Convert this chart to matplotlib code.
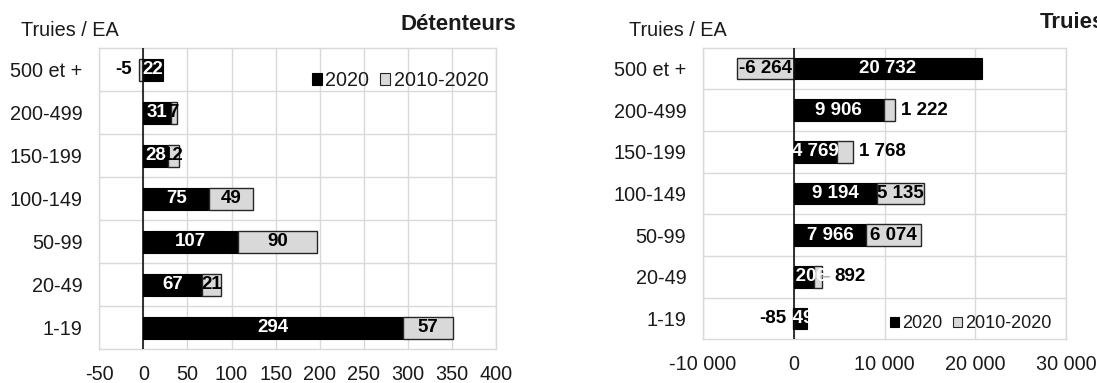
import matplotlib
matplotlib.use("Agg")
import matplotlib.pyplot as plt
from matplotlib.patches import Patch
import numpy as np

plt.rcParams['font.family'] = ['Liberation Sans', 'DejaVu Sans']

# Size classes (sows per holding), top to bottom
classes = ["500 et +", "200-499", "150-199", "100-149", "50-99", "20-49", "1-19"]

# Holders: 2020 count and change 2010-2020
holders_2020 = [22, 31, 28, 75, 107, 67, 294]
holders_change = [-5, 7, 12, 49, 90, 21, 57]

# Sows: 2020 count and change 2010-2020
sows_2020 = [20732, 9906, 4769, 9194, 7966, 2206, 1492]
sows_change = [-6264, 1222, 1768, 5135, 6074, 892, -85]

holders_ticks = [-50, 0, 50, 100, 150, 200, 250, 300, 350, 400]
sows_ticks = [-10000, 0, 10000, 20000, 30000]

series_names = ["2020", "2010-2020"]

# where the change labels sit: centred, outside the bar end, or outside with a leader
holders_label_pos = ["out", "c", "c", "c", "c", "c", "c"]
sows_label_pos = ["c", "out", "out", "c", "c", "lead", "out"]

BLACK = "#000000"
GREY = "#d9d9d9"
EDGE = "#262626"
GRID = "#d9d9d9"
TXT = "#1a1a1a"
FS = 14.3       # axis text
FS_VAL = 13.5   # bar values
FS_TITLE = 16


def fmt(v):
    s = f"{abs(v):,}".replace(",", " ")
    return "-" + s if v < 0 else s


def panel(ax, base, change, ticks, label_pos, height, xpad):
    y = np.arange(len(classes))
    ax.barh(y, base, height, color=BLACK, edgecolor=BLACK, lw=0.8, zorder=2)
    left = [b if c >= 0 else 0 for b, c in zip(base, change)]
    ax.barh(y, change, height, left=left, color=GREY, edgecolor=EDGE, lw=1.0, zorder=2)
    ax.axvline(0, color="black", lw=1.1, zorder=3)

    for yi, b in zip(y, base):
        ax.text(b / 2, yi, fmt(b), color="white", fontsize=FS_VAL, fontweight="bold",
                ha="center", va="center", zorder=5)
    for yi, l, c, p in zip(y, left, change, label_pos):
        kw = dict(color="black", fontsize=FS_VAL, fontweight="bold", va="center", zorder=6,
                  textcoords="offset pixels")
        if p == "c":
            ax.annotate(fmt(c), xy=(l + c / 2, yi), xytext=(0, 0), ha="center", **kw)
        elif p == "out":
            end = l + c
            if c < 0:
                ax.annotate(fmt(c), xy=(end, yi), xytext=(-7, 0), ha="right", **kw)
            else:
                ax.annotate(fmt(c), xy=(end, yi), xytext=(6, 0), ha="left", **kw)
        else:
            ax.annotate(fmt(c), xy=(l + c, yi), xytext=(13, 0), ha="left",
                        arrowprops=dict(arrowstyle="-", color="#a6a6a6", lw=1,
                                        shrinkA=2, shrinkB=0), **kw)

    ax.set_xlim(ticks[0], ticks[-1])
    ax.set_ylim(len(classes) - 0.5, -0.5)
    ax.set_xticks(ticks)
    ax.set_xticklabels([fmt(t) for t in ticks])
    ax.set_yticks(y)
    ax.set_yticklabels(classes)
    ax.set_yticks(np.arange(len(classes) - 1) + 0.5, minor=True)
    ax.grid(axis="x", which="major", color=GRID, lw=1, zorder=0)
    ax.grid(axis="y", which="minor", color=GRID, lw=1, zorder=0)
    ax.set_axisbelow(True)
    ax.tick_params(axis="both", which="both", length=0, labelsize=FS, colors=TXT)
    ax.tick_params(axis="y", pad=12)
    ax.tick_params(axis="x", pad=xpad)
    for s in ax.spines.values():
        s.set_color(GRID)
        s.set_linewidth(1)


def legend(ax, anchor, size):
    handles = [Patch(facecolor=BLACK, edgecolor=BLACK, lw=0.8),
               Patch(facecolor=GREY, edgecolor=EDGE, lw=0.8)]
    ax.legend(handles, series_names, loc="center left", bbox_to_anchor=anchor,
              ncol=2, frameon=False, fontsize=size, handlelength=0.52, handleheight=0.52,
              handletextpad=0.18, columnspacing=0.55, borderpad=0, borderaxespad=0,
              labelcolor=TXT)


W, H = 1097, 383
fig = plt.figure(figsize=(W / 100, H / 100), dpi=100)

ax1 = fig.add_axes([99.3 / W, 1 - 349.3 / H, (496 - 99.3) / W, (349.3 - 48.3) / H])
panel(ax1, holders_2020, holders_change, holders_ticks, holders_label_pos, 0.5, 11.5)
legend(ax1, (0.535, 0.893), 14.2)

ax2 = fig.add_axes([703 / W, 1 - 339.3 / H, (1066 - 703) / W, (339.3 - 47.5) / H])
panel(ax2, sows_2020, sows_change, sows_ticks, sows_label_pos, 0.52, 11)
legend(ax2, (0.515, 0.0535), 13)

fig.text(21.4 / W, 1 - 31 / H, "Truies / EA", fontsize=FS, color=TXT, ha="left", va="center")
fig.text(516 / W, 1 - 24 / H, "Détenteurs", fontsize=FS_TITLE, fontweight="bold", color=TXT,
         ha="right", va="center")
fig.text(629.4 / W, 1 - 30 / H, "Truies / EA", fontsize=FS, color=TXT, ha="left", va="center")
fig.text(1039.3 / W, 1 - 23 / H, "Truies", fontsize=FS_TITLE, fontweight="bold", color=TXT,
         ha="left", va="center")

fig.savefig("out.png", dpi=100)
